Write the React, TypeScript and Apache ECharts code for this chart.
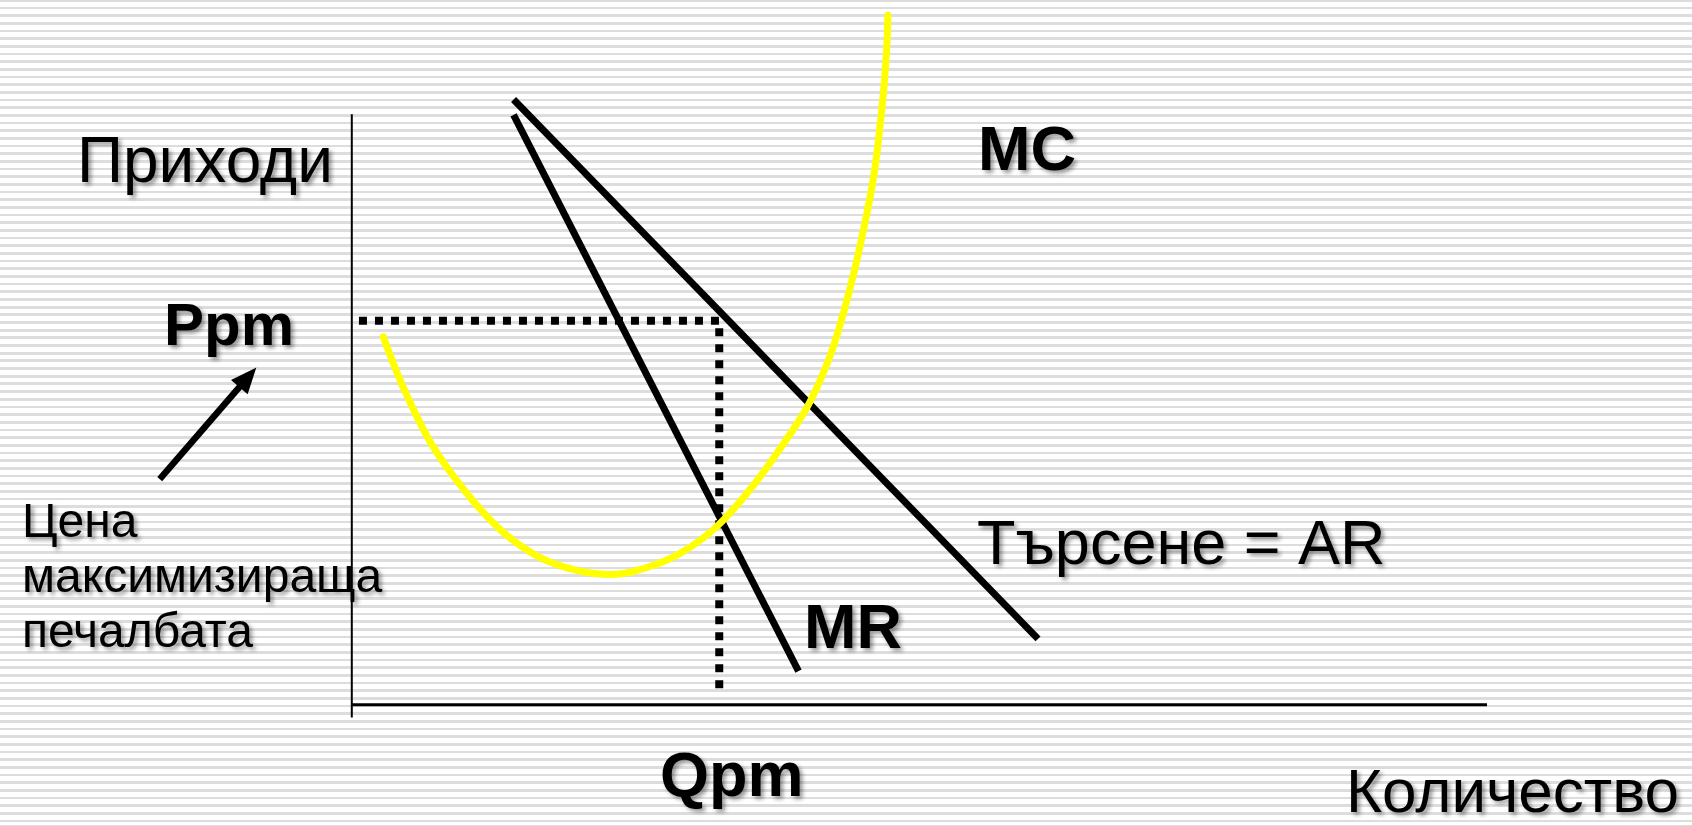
import React, { useEffect, useRef } from "react";
import * as echarts from "echarts";

// ---- Data (quantity on x, revenue/cost on y; axis origin at 0,0) ----
const mcQuantity = [2.77, 4.5, 7.01, 10.16, 13.31, 16.46, 19.8, 23.0, 26.2, 29.2, 32.18, 35.33, 38.48, 40.36, 42.25, 43.83, 45.08, 46.03, 46.81, 47.13, 47.22];
const mcCost = [52.56, 45.46, 37.26, 30.14, 24.67, 21.13, 19.2, 18.6, 19.7, 21.9, 25.5, 31.24, 38.34, 43.27, 50.37, 59.11, 67.87, 76.07, 87.0, 94.11, 98.49];
const demandQuantity = [14.25, 60.45];
const demandPrice = [86.46, 9.41];
const mrQuantity = [14.25, 39.35];
const mrRevenue = [84.27, 4.79];
const profitMaxQ = 32.37;
const profitMaxP = 54.86;
const dottedStartQ = 0.63;
const dottedEndP = 1.24;
const xAxisExtent = [0, 100];
const yAxisExtent = [-1.84, 84.34];
const arrowQ = [-16.92, -9.16];
const arrowP = [32.23, 46.77];

// ---- Layout (view window in data units) ----
const X_MIN = -30.99;
const X_MAX = 118.06;
const Y_MIN = -17.33;
const Y_MAX = 100.67;

const FONT = '"Liberation Sans", Arial, Helvetica, sans-serif';

function label(text: string, x: number, yBaseline: number, size: number, bold = false) {
  return {
    type: "text",
    x,
    y: yBaseline - 0.3465 * size,
    silent: true,
    z: 20,
    style: {
      text,
      fill: "#000",
      font: `${bold ? "bold " : ""}${size}px ${FONT}`,
      lineHeight: Math.round(size * 0.8),
      textAlign: "left",
      textVerticalAlign: "middle",
      verticalAlign: "middle",
      textShadowColor: "rgba(0,0,0,0.4)",
      textShadowBlur: 4,
      textShadowOffsetX: 3,
      textShadowOffsetY: 3,
    },
  };
}

export default function App() {
  const ref = useRef<HTMLDivElement>(null);

  useEffect(() => {
    if (!ref.current) return;
    const chart = echarts.init(ref.current, undefined, { renderer: "svg" });

    const mcData = mcQuantity.map((q, i) => [q, mcCost[i]]);
    const arData = demandQuantity.map((q, i) => [q, demandPrice[i]]);
    const mrData = mrQuantity.map((q, i) => [q, mrRevenue[i]]);

    const option: any = {
      animation: false,
      backgroundColor: "transparent",
      grid: { left: 0, right: 0, top: 0, bottom: 0, containLabel: false },
      xAxis: { type: "value", min: X_MIN, max: X_MAX, show: false },
      yAxis: { type: "value", min: Y_MIN, max: Y_MAX, show: false },
      series: [
        {
          name: "y-axis",
          type: "line",
          data: [[0, yAxisExtent[0]], [0, yAxisExtent[1]]],
          symbol: "none",
          silent: true,
          clip: false,
          lineStyle: { color: "#000", width: 2 },
          z: 2,
        },
        {
          name: "x-axis",
          type: "line",
          data: [[xAxisExtent[0], 0], [xAxisExtent[1], 0]],
          symbol: "none",
          silent: true,
          clip: false,
          lineStyle: { color: "#000", width: 3 },
          z: 2,
        },
        {
          name: "dotted",
          type: "line",
          data: [[dottedStartQ, profitMaxP], [profitMaxQ, profitMaxP], [profitMaxQ, dottedEndP]],
          symbol: "none",
          silent: true,
          clip: false,
          lineStyle: { color: "#000", width: 8, type: [8, 8], cap: "butt", join: "miter" },
          z: 3,
        },
        {
          name: "AR",
          type: "line",
          data: arData,
          symbol: "none",
          silent: true,
          clip: false,
          lineStyle: { color: "#000", width: 7, cap: "butt" },
          z: 4,
        },
        {
          name: "MR",
          type: "line",
          data: mrData,
          symbol: "none",
          silent: true,
          clip: false,
          lineStyle: { color: "#000", width: 7, cap: "butt" },
          z: 4,
          markLine: {
            silent: true,
            symbol: ["none", "triangle"],
            symbolSize: [22, 26],
            label: { show: false },
            lineStyle: { color: "#000", width: 6.5, type: "solid", cap: "butt" },
            itemStyle: { color: "#000" },
            data: [[{ coord: [arrowQ[0], arrowP[0]] }, { coord: [arrowQ[1], arrowP[1]] }]],
          },
        },
        {
          name: "MC",
          type: "line",
          data: mcData,
          smooth: 0.35,
          symbol: "none",
          silent: true,
          clip: false,
          lineStyle: { color: "#ffff00", width: 7, cap: "round" },
          z: 6,
        },
      ],
      graphic: [
        label("Приходи", 77, 182, 64),
        label("Ppm", 164, 345, 60, true),
        label("MC", 978, 170, 63, true),
        label("Търсене = AR", 977, 564, 63),
        label("MR", 804, 648, 63, true),
        label("Qpm", 660, 796, 63, true),
        label("Количество", 1346, 812, 62),
        label("Цена", 22, 537, 48),
        label("максимизираща", 22, 592, 48),
        label("печалбата", 22, 647, 48),
      ],
    };

    chart.setOption(option);
    return () => {
      chart.dispose();
    };
  }, []);

  return (
    <div
      style={{
        position: "fixed",
        left: 0,
        top: 0,
        width: 1692,
        height: 826,
        backgroundColor: "#ffffff",
        backgroundImage:
          "repeating-linear-gradient(to bottom, #dddddd 0px, #dddddd 2.7px, #ffffff 2.7px, #ffffff 7.67px)",
        backgroundPosition: "0 -1px",
      }}
    >
      <div ref={ref} style={{ width: 1692, height: 826 }} />
    </div>
  );
}
